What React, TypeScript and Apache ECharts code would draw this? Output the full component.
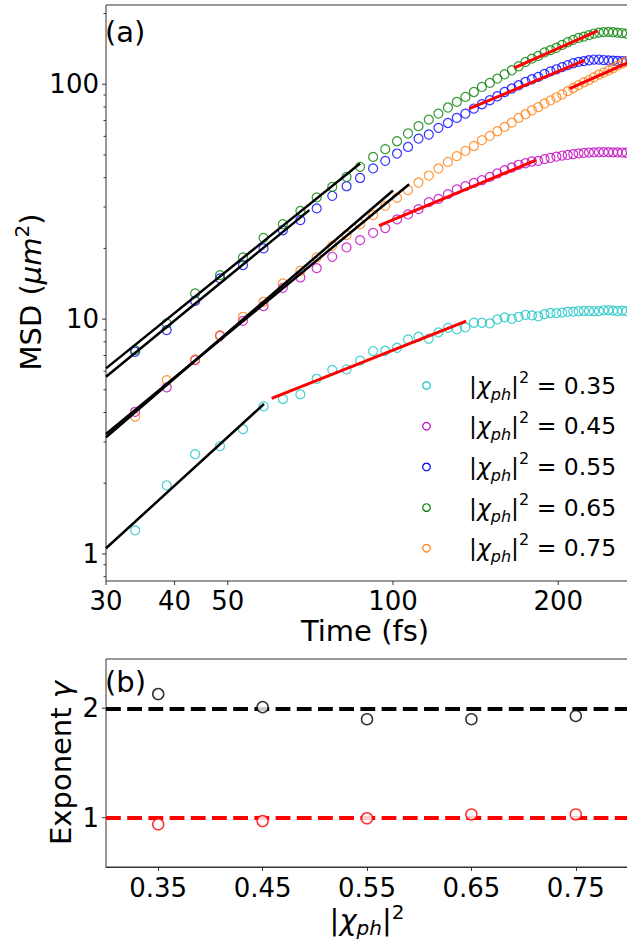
import React, { useEffect, useRef } from 'react';
import * as echarts from 'echarts';

// ---------- data ----------
const TIMES = [33.9, 38.7, 43.6, 48.4, 53.3, 58.1, 63.0, 67.8, 72.6, 77.5, 82.3, 87.1, 92.0, 96.8, 101.7, 106.5, 111.3, 116.2, 121.0, 125.9, 130.7, 135.5, 140.4, 145.2, 150.1, 154.9, 159.7, 164.6, 169.4, 174.3, 179.1, 183.9, 188.8, 193.6, 198.5, 203.3, 208.1, 213.0, 217.8, 222.7, 227.5, 232.3, 237.2, 242.0, 246.9, 251.7, 256.5, 261.4, 266.2];

const MSD_035 = [1.26, 1.96, 2.66, 2.88, 3.40, 4.25, 4.57, 4.78, 5.57, 6.08, 6.11, 6.65, 7.31, 7.33, 7.55, 8.20, 8.41, 8.25, 8.78, 9.18, 9.04, 9.22, 9.65, 9.65, 9.59, 9.97, 10.17, 10.03, 10.23, 10.43, 10.37, 10.28, 10.50, 10.62, 10.60, 10.65, 10.75, 10.76, 10.80, 10.83, 10.83, 10.81, 10.81, 10.90, 10.92, 10.86, 10.82, 10.87, 10.81];
const MSD_045 = [4.03, 5.12, 6.69, 8.49, 9.83, 11.36, 13.59, 15.04, 16.48, 18.42, 20.19, 21.69, 23.3, 24.4, 26.57, 27.9, 29.38, 31.47, 32.5, 34.03, 35.64, 36.81, 38.0, 39.03, 40.3, 41.7, 43.06, 44.2, 45.4, 46.1, 46.9, 47.2, 48.0, 48.6, 49.2, 49.7, 50.0, 50.4, 50.8, 51.0, 51.2, 51.3, 51.4, 51.4, 51.4, 51.3, 51.3, 51.2, 51.1];
const MSD_055 = [7.26, 8.98, 11.95, 14.9, 16.98, 20.0, 23.9, 26.4, 29.6, 33.5, 36.8, 39.9, 43.8, 47.2, 50.7, 54.1, 58.7, 61.1, 65.2, 68.4, 71.9, 75.0, 78.8, 82.2, 85.5, 88.9, 92.7, 95.9, 99.0, 102.3, 105.0, 107.5, 110.7, 113.4, 115.8, 118.2, 120.6, 122.9, 124.5, 125.5, 126.5, 127.4, 127.4, 126.8, 126.3, 126.0, 125.6, 125.4, 125.3];
const MSD_065 = [7.38, 9.59, 12.87, 15.39, 18.31, 22.18, 25.37, 28.9, 32.96, 36.56, 40.3, 44.5, 49.06, 52.9, 57.2, 61.7, 66.3, 70.7, 75.0, 79.6, 84.1, 88.3, 92.7, 97.4, 101.3, 105.7, 110.3, 114.7, 119.3, 124.5, 128.6, 132.0, 136.7, 139.8, 143.0, 147.0, 151.0, 154.6, 157.5, 159.6, 161.8, 164.4, 165.8, 166.8, 167.1, 166.5, 165.9, 165.2, 164.3];
const MSD_075 = [3.84, 5.50, 6.74, 8.55, 10.23, 11.85, 14.19, 16.06, 18.31, 20.51, 22.78, 25.37, 27.71, 30.36, 32.83, 35.4, 38.16, 40.86, 43.77, 46.7, 49.4, 52.0, 54.6, 57.8, 60.3, 63.1, 65.8, 68.7, 71.9, 74.5, 77.5, 79.9, 82.8, 85.4, 88.0, 90.6, 93.5, 96.4, 99.2, 102.0, 104.2, 107.0, 110.0, 112.0, 114.5, 117.0, 120.0, 122.6, 125.3];

const SERIES_LABELS = ['0.35', '0.45', '0.55', '0.65', '0.75'];
const SERIES_VALUES = [MSD_035, MSD_045, MSD_055, MSD_065, MSD_075];
const COLORS = ['#17c4c4', '#bf00bf', '#0000ff', '#008000', '#ff7f0e'];

// fitted power laws: [start, end] as [time, MSD]
const FIT_BALLISTIC = [
  [[30, 1.057], [58.2, 4.35]],
  [[30, 3.14], [100, 35.3]],
  [[30, 5.68], [70.4, 29.1]],
  [[30, 6.17], [87.1, 46.0]],
  [[30, 3.24], [107, 37.5]],
];
const FIT_DIFFUSIVE = [
  [[60.1, 4.60], [135.9, 9.80]],
  [[94.3, 25.0], [182.1, 47.5]],
  [[137.7, 78.8], [223.4, 126.5]],
  [[166.3, 117.3], [235.9, 168.6]],
  [[209.7, 95.9], [268, 123.6]],
];

const X_TICKS = [30, 40, 50, 100, 200];
const Y_MAJOR = [1, 10, 100];
const Y_MINOR = [0.8, 0.9, 2, 3, 4, 5, 6, 7, 8, 9, 20, 30, 40, 50, 60, 70, 80, 90, 200];

const CATEGORIES = ['0.35', '0.45', '0.55', '0.65', '0.75'];
const GAMMA_BALLISTIC = [2.13, 2.01, 1.90, 1.90, 1.93];
const GAMMA_DIFFUSIVE = [0.94, 0.97, 0.995, 1.03, 1.03];
const GAMMA_TICKS = [1, 2];

// ---------- style ----------
const FONT = "'DejaVu Sans', sans-serif";
const AXIS = '#333333';
const TICK_FS = 26;
const TITLE_FS = 29;
const LEGEND_FS = 23.5;

const X_MIN = 30;
const X_MAX = 268;
const Y_MIN = 0.767;
const Y_MAX = 217.5;

function rich(s: number, lhf: number) {
  const lh = Math.round(s * lhf);
  const small = Math.round(s * 0.7);
  return {
    n: { fontSize: s, fontFamily: FONT, fill: '#000', lineHeight: lh, verticalAlign: 'middle' },
    i: { fontSize: s, fontFamily: FONT, fontStyle: 'italic', fill: '#000', lineHeight: lh, verticalAlign: 'middle' },
    sub: { fontSize: small, fontFamily: FONT, fontStyle: 'italic', fill: '#000', lineHeight: small, verticalAlign: 'bottom' },
    sup: { fontSize: small, fontFamily: FONT, fill: '#000', lineHeight: small, verticalAlign: 'top' },
  };
}

function label(text: string, fs: number) {
  return { text, fontSize: fs, fontFamily: FONT, fill: '#000' };
}

export default function App() {
  const ref = useRef<HTMLDivElement>(null);

  useEffect(() => {
    if (!ref.current) return;
    const chart = echarts.init(ref.current, null, { renderer: 'svg' });

    const xTickRender = (params: any, api: any) => {
      const t = api.value(0);
      const p = api.coord([t, Y_MIN]);
      const yb = params.coordSys.y + params.coordSys.height;
      return {
        type: 'group',
        children: [
          { type: 'line', shape: { x1: p[0], y1: yb, x2: p[0], y2: yb + 4 }, style: { stroke: AXIS, lineWidth: 1 } },
          {
            type: 'text', x: p[0], y: yb + 20,
            style: { ...label(String(t), TICK_FS), align: 'center', verticalAlign: 'middle' },
          },
        ],
      };
    };
    const yTickRender = (withLabel: boolean, len: number) => (params: any, api: any) => {
      const v = api.value(1);
      const p = api.coord([api.value(0), v]);
      const x0 = params.coordSys.x;
      const children: any[] = [
        { type: 'line', shape: { x1: x0 - len, y1: p[1], x2: x0, y2: p[1] }, style: { stroke: AXIS, lineWidth: 1 } },
      ];
      if (withLabel) {
        children.push({
          type: 'text', x: x0 - 7, y: p[1],
          style: { ...label(String(v), TICK_FS), align: 'right', verticalAlign: 'middle' },
        });
      }
      return { type: 'group', children };
    };

    const series: any[] = [];
    SERIES_VALUES.forEach((vals, k) => {
      series.push({
        type: 'scatter', name: SERIES_LABELS[k], xAxisIndex: 0, yAxisIndex: 0,
        data: TIMES.map((t, i) => [t, vals[i]]),
        symbol: 'circle', symbolSize: 9,
        itemStyle: { color: 'none', borderColor: COLORS[k], borderWidth: 1.2 },
        z: 2, silent: true,
      });
    });
    FIT_BALLISTIC.forEach((seg) => {
      series.push({
        type: 'line', xAxisIndex: 0, yAxisIndex: 0, data: seg, showSymbol: false, symbol: 'none',
        lineStyle: { color: '#000', width: 2.5 }, z: 4, silent: true,
      });
    });
    FIT_DIFFUSIVE.forEach((seg) => {
      series.push({
        type: 'line', xAxisIndex: 0, yAxisIndex: 0, data: seg, showSymbol: false, symbol: 'none',
        lineStyle: { color: '#ff0000', width: 3 }, z: 5, silent: true,
      });
    });
    series.push({
      type: 'custom', xAxisIndex: 0, yAxisIndex: 0, clip: false, silent: true, z: 6,
      data: X_TICKS.map((t) => [t, Y_MIN]), renderItem: xTickRender,
    });
    series.push({
      type: 'custom', xAxisIndex: 0, yAxisIndex: 0, clip: false, silent: true, z: 6,
      data: Y_MAJOR.map((v) => [X_MIN, v]), renderItem: yTickRender(true, 4),
    });
    series.push({
      type: 'custom', xAxisIndex: 0, yAxisIndex: 0, clip: false, silent: true, z: 6,
      data: Y_MINOR.map((v) => [X_MIN, v]), renderItem: yTickRender(false, 2.5),
    });

    // bottom panel
    series.push({
      type: 'scatter', xAxisIndex: 1, yAxisIndex: 1, data: GAMMA_BALLISTIC,
      symbol: 'circle', symbolSize: 11,
      itemStyle: { color: '#ffffff', borderColor: '#000', borderWidth: 1.5 },
      z: 10, silent: true,
      markLine: {
        silent: true, symbol: ['none', 'none'], z: 1, label: { show: false },
        lineStyle: { width: 4, type: [14.8, 6.4] },
        data: [
          { yAxis: 2, lineStyle: { color: '#000000', width: 4, type: [14.8, 6.4] } },
          { yAxis: 1, lineStyle: { color: '#ff0000', width: 4, type: [14.8, 6.4] } },
        ],
      },
    });
    series.push({
      type: 'scatter', xAxisIndex: 1, yAxisIndex: 1, data: GAMMA_DIFFUSIVE,
      symbol: 'circle', symbolSize: 11,
      itemStyle: { color: '#ffffff', borderColor: '#ff0000', borderWidth: 1.5 },
      z: 10, silent: true,
    });
    series.push({
      type: 'custom', xAxisIndex: 1, yAxisIndex: 1, clip: false, silent: true, z: 6,
      data: GAMMA_TICKS.map((v) => [0, v]), renderItem: yTickRender(true, 4),
    });

    const legendItems: any[] = [];
    SERIES_LABELS.forEach((lab, k) => {
      const cy = 385.5 + 40.7 * k;
      legendItems.push({
        type: 'circle', shape: { cx: 426.5, cy, r: 3.8 },
        style: { fill: 'none', stroke: COLORS[k], lineWidth: 1.2 },
      });
      legendItems.push({
        type: 'text', x: 469, y: cy,
        style: {
          text: `{n||}{i|χ}{sub|ph}{n||}{sup|2}{n| = ${lab}}`,
          rich: rich(LEGEND_FS, 1.4), fontSize: LEGEND_FS, fontFamily: FONT, fill: '#000',
          align: 'left', verticalAlign: 'middle',
        },
      });
    });

    const option: any = {
      animation: false,
      backgroundColor: '#ffffff',
      grid: [
        { left: 106, top: 5, width: 522, height: 576, show: true, borderColor: AXIS, borderWidth: 1, backgroundColor: 'transparent' },
        { left: 106, top: 659, width: 522, height: 208, show: true, borderColor: AXIS, borderWidth: 1, backgroundColor: 'transparent' },
      ],
      xAxis: [
        {
          type: 'log', logBase: 10, gridIndex: 0, min: X_MIN, max: X_MAX,
          axisLine: { show: false }, axisTick: { show: false }, axisLabel: { show: false }, splitLine: { show: false },
        },
        {
          type: 'category', gridIndex: 1, data: CATEGORIES, boundaryGap: true,
          axisLine: { show: true, lineStyle: { color: AXIS, width: 1 } },
          axisTick: { show: true, alignWithLabel: true, length: 4, lineStyle: { color: AXIS } },
          axisLabel: { color: '#000', fontSize: TICK_FS, fontFamily: FONT, margin: 8 },
          splitLine: { show: false },
        },
      ],
      yAxis: [
        {
          type: 'log', logBase: 10, gridIndex: 0, min: Y_MIN, max: Y_MAX,
          axisLine: { show: false }, axisTick: { show: false }, axisLabel: { show: false }, splitLine: { show: false },
        },
        {
          type: 'value', gridIndex: 1, min: 0.55, max: 2.45,
          axisLine: { show: false }, axisTick: { show: false }, axisLabel: { show: false }, splitLine: { show: false },
        },
      ],
      graphic: [
        { type: 'text', x: 105, y: 32, style: { ...label('(a)', TITLE_FS), align: 'left', verticalAlign: 'middle' } },
        { type: 'text', x: 105, y: 682, style: { ...label('(b)', TITLE_FS), align: 'left', verticalAlign: 'middle' } },
        { type: 'text', x: 365, y: 631, style: { ...label('Time (fs)', TITLE_FS), align: 'center', verticalAlign: 'middle' } },
        {
          type: 'text', x: 31, y: 292, rotation: Math.PI / 2,
          style: { text: '{n|MSD (}{i|μm}{sup|2}{n|)}', rich: rich(TITLE_FS, 1.3), fontSize: TITLE_FS, fontFamily: FONT, fill: '#000', align: 'center', verticalAlign: 'middle' },
        },
        {
          type: 'text', x: 61, y: 763, rotation: Math.PI / 2,
          style: { text: '{n|Exponent }{i|γ}', rich: rich(TITLE_FS, 1.3), fontSize: TITLE_FS, fontFamily: FONT, fill: '#000', align: 'center', verticalAlign: 'middle' },
        },
        {
          type: 'text', x: 367, y: 920,
          style: { text: '{n||}{i|χ}{sub|ph}{n||}{sup|2}', rich: rich(TITLE_FS, 1.25), fontSize: TITLE_FS, fontFamily: FONT, fill: '#000', align: 'center', verticalAlign: 'middle' },
        },
        ...legendItems,
      ],
      series,
    };

    chart.setOption(option);
    return () => chart.dispose();
  }, []);

  return (
    <div style={{ position: 'fixed', left: 0, top: 0, width: 627, height: 941, overflow: 'hidden', background: '#fff' }}>
      <div ref={ref} style={{ width: 640, height: 941 }} />
    </div>
  );
}
